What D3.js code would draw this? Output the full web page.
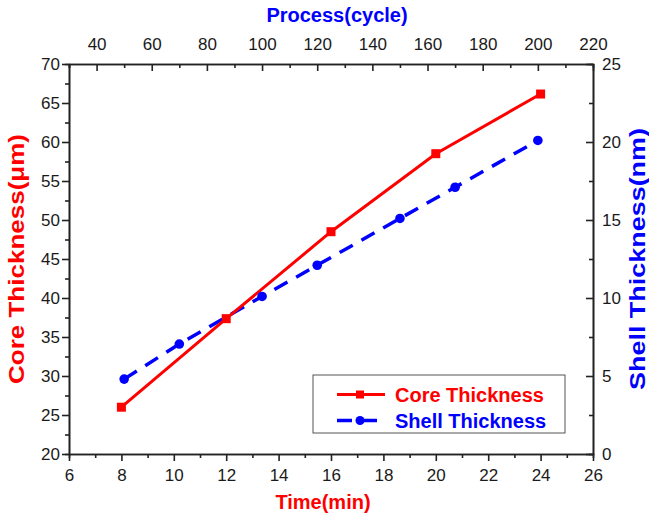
<!DOCTYPE html>
<html>
<head>
<meta charset="utf-8">
<script src="https://cdn.jsdelivr.net/npm/d3@7/dist/d3.min.js"></script>
<style>
  body { margin: 0; background: #fff; }
  svg { display: block; }
  .tick text { font-family: "Liberation Sans", Arial, sans-serif; font-size: 17px; fill: #1a1a1a; }
  .domain, .tick line { stroke: #222; stroke-width: 1.6px; }
</style>
</head>
<body>
<div id="chart"></div>
<script>
// core thickness vs time
const coreTime = [8, 12, 16, 20, 24]
const coreValue = [26.0, 37.35, 48.5, 58.5, 66.15]
// shell thickness vs process cycles
const shellCycle = [50, 70, 100, 120, 150, 170, 200]
const shellValue = [4.8, 7.05, 10.1, 12.1, 15.1, 17.1, 20.1]

const timeTicks = [6, 8, 10, 12, 14, 16, 18, 20, 22, 24, 26]
const cycleTicks = [40, 60, 80, 100, 120, 140, 160, 180, 200, 220]
const coreTicks = [20, 25, 30, 35, 40, 45, 50, 55, 60, 65, 70]
const shellTicks = [0, 5, 10, 15, 20, 25]

const width = 649, height = 517
const margin = {top: 64, right: 56, bottom: 63, left: 69}
const w = width - margin.left - margin.right
const h = height - margin.top - margin.bottom

const svg = d3.select('#chart').append('svg')
    .attr('width', width)
    .attr('height', height)

const g = svg.append('g')
    .attr('transform', 'translate(' + margin.left + ',' + margin.top + ')')

const x = d3.scaleLinear().domain([6, 26]).range([0, w])
const xTop = d3.scaleLinear().domain([30, 220]).range([0, w])
const y = d3.scaleLinear().domain([20, 70]).range([h, 0])
const yRight = d3.scaleLinear().domain([0, 25]).range([h, 0])

// minor ticks first
g.append('g').attr('transform', 'translate(0,' + h + ')')
    .call(d3.axisBottom(x).tickValues(d3.range(7, 26, 2)).tickSize(4).tickFormat(''))
g.append('g')
    .call(d3.axisTop(xTop).tickValues(d3.range(30, 221, 20)).tickSize(-4).tickFormat(''))
g.append('g')
    .call(d3.axisLeft(y).tickValues(d3.range(22.5, 70, 5)).tickSize(4).tickFormat(''))
g.append('g').attr('transform', 'translate(' + w + ',0)')
    .call(d3.axisRight(yRight).tickValues(d3.range(2.5, 25, 5)).tickSize(-4).tickFormat(''))

// major axes
g.append('g').attr('transform', 'translate(0,' + h + ')')
    .call(d3.axisBottom(x).tickValues(timeTicks).tickSize(7).tickPadding(8).tickSizeOuter(0))
g.append('g')
    .call(d3.axisTop(xTop).tickValues(cycleTicks).tickSize(-7).tickPadding(14).tickSizeOuter(0))
g.append('g')
    .call(d3.axisLeft(y).tickValues(coreTicks).tickSize(7).tickPadding(2).tickSizeOuter(0))
g.append('g').attr('transform', 'translate(' + w + ',0)')
    .call(d3.axisRight(yRight).tickValues(shellTicks).tickSize(-7).tickPadding(9).tickSizeOuter(0))

const coreData = coreTime.map((t, i) => [t, coreValue[i]])
const shellData = shellCycle.map((c, i) => [c, shellValue[i]])

// shell line (blue, dashed) on the top / right axes
g.append('path')
    .datum(shellData)
    .attr('fill', 'none')
    .attr('stroke', '#0000ff')
    .attr('stroke-width', 3.5)
    .attr('stroke-dasharray', '15,10')
    .attr('d', d3.line().x(d => xTop(d[0])).y(d => yRight(d[1])))

// core line (red, solid) on the bottom / left axes
g.append('path')
    .datum(coreData)
    .attr('fill', 'none')
    .attr('stroke', '#ff0000')
    .attr('stroke-width', 3)
    .attr('d', d3.line().x(d => x(d[0])).y(d => y(d[1])))

g.selectAll('.sq').data(coreData).enter().append('rect')
    .attr('x', d => x(d[0]) - 4.5)
    .attr('y', d => y(d[1]) - 4.5)
    .attr('width', 9).attr('height', 9)
    .attr('fill', '#ff0000')

g.selectAll('.dot').data(shellData).enter().append('circle')
    .attr('cx', d => xTop(d[0]))
    .attr('cy', d => yRight(d[1]))
    .attr('r', 4.8)
    .attr('fill', '#0000ff')

// axis titles
const titleFont = '"Liberation Sans", Arial, sans-serif'
svg.append('text')
    .attr('x', margin.left + w / 2 + 6).attr('y', 22)
    .attr('text-anchor', 'middle')
    .style('font-family', titleFont).style('font-weight', 'bold').style('font-size', '20px')
    .attr('fill', '#0000ff')
    .text('Process(cycle)')
svg.append('text')
    .attr('x', margin.left + w / 2 - 8).attr('y', 509)
    .attr('text-anchor', 'middle')
    .style('font-family', titleFont).style('font-weight', 'bold').style('font-size', '20px')
    .attr('fill', '#ff0000')
    .text('Time(min)')
svg.append('text')
    .attr('transform', 'translate(24,' + (margin.top + h / 2) + ') rotate(-90)')
    .attr('text-anchor', 'middle')
    .attr('textLength', 250).attr('lengthAdjust', 'spacingAndGlyphs')
    .style('font-family', titleFont).style('font-weight', 'bold').style('font-size', '22px')
    .attr('fill', '#ff0000')
    .text('Core Thickness(μm)')
svg.append('text')
    .attr('transform', 'translate(645,' + (margin.top + h / 2) + ') rotate(-90)')
    .attr('text-anchor', 'middle')
    .attr('textLength', 262).attr('lengthAdjust', 'spacingAndGlyphs')
    .style('font-family', titleFont).style('font-weight', 'bold').style('font-size', '22px')
    .attr('fill', '#0000ff')
    .text('Shell Thickness(nm)')

// legend
const leg = svg.append('g').attr('transform', 'translate(313,375)')
leg.append('rect')
    .attr('width', 252).attr('height', 58)
    .attr('fill', '#fff').attr('stroke', '#555').attr('stroke-width', 1)
leg.append('line').attr('x1', 24).attr('x2', 72).attr('y1', 19.5).attr('y2', 19.5)
    .attr('stroke', '#ff0000').attr('stroke-width', 3)
leg.append('rect').attr('x', 43).attr('y', 15.5).attr('width', 8).attr('height', 8).attr('fill', '#ff0000')
leg.append('line').attr('x1', 24).attr('x2', 72).attr('y1', 45.5).attr('y2', 45.5)
    .attr('stroke', '#0000ff').attr('stroke-width', 3.5).attr('stroke-dasharray', '15,10')
leg.append('circle').attr('cx', 47).attr('cy', 45.5).attr('r', 4.5).attr('fill', '#0000ff')
leg.append('text').attr('x', 82).attr('y', 26.5)
    .style('font-family', titleFont).style('font-weight', 'bold').style('font-size', '20px')
    .attr('fill', '#ff0000').text('Core Thickness')
leg.append('text').attr('x', 82).attr('y', 52.5)
    .style('font-family', titleFont).style('font-weight', 'bold').style('font-size', '20px')
    .attr('fill', '#0000ff').text('Shell Thickness')
</script>
</body>
</html>
